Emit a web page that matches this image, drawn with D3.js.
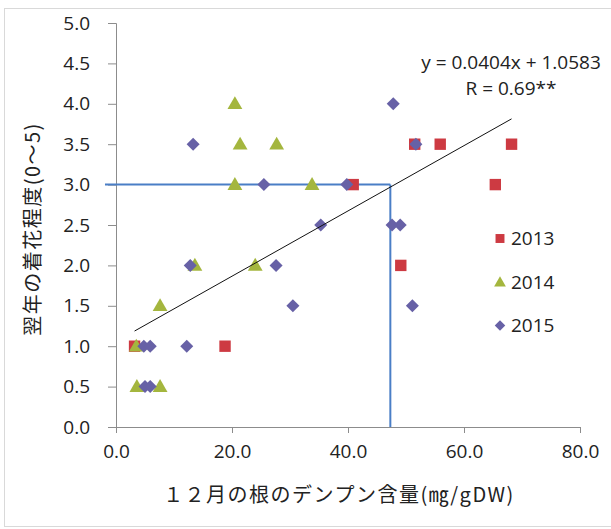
<!DOCTYPE html>
<html>
<head>
<meta charset="utf-8">
<script src="https://cdn.jsdelivr.net/npm/d3@7"></script>
<style>
  html, body { margin: 0; padding: 0; background: #fff; }
  svg { display: block; }
  .lat { font-family: "Open Sans", "Liberation Sans", sans-serif; }
  .cjk { font-family: "Noto Sans CJK JP", "Noto Sans", sans-serif; }
</style>
</head>
<body>
<script>
// Series values: [starch content (mg/gDW), flowering score]
const series2013 = [[3.2,1.0],[18.8,1.0],[40.9,3.0],[51.5,3.5],[55.9,3.5],[68.2,3.5],[65.4,3.0],[49.1,2.0]];
const series2014 = [[20.5,4.0],[21.4,3.5],[27.7,3.5],[20.5,3.0],[33.8,3.0],[13.6,2.0],[24.0,2.0],[7.6,1.5],[3.5,1.0],[3.6,0.5],[7.6,0.5]];
const series2015 = [[13.3,3.5],[47.8,4.0],[51.7,3.5],[25.5,3.0],[39.8,3.0],[35.3,2.5],[47.6,2.5],[49.0,2.5],[12.8,2.0],[27.6,2.0],[30.5,1.5],[51.1,1.5],[4.8,1.0],[5.9,1.0],[12.2,1.0],[5.0,0.5],[5.9,0.5]];
const seriesNames = ["2013", "2014", "2015"];
const xTicks = [0, 20, 40, 60, 80];
const yTicks = [0, 0.5, 1, 1.5, 2, 2.5, 3, 3.5, 4, 4.5, 5];
const slope = 0.0404, intercept = 1.0583;
const equationLines = ["y = 0.0404x + 1.0583", "R = 0.69**"];
const threshold = { x: 47.3, y: 3.0, xStart: -1.9 };
const xTitle = "１２月の根のデンプン含量(㎎/gDW)";
const yTitle = "翌年の着花程度(0〜5)";

const W = 611, H = 529;
const colors = { "2013": "#CD3A42", "2014": "#A4B63E", "2015": "#6761A6" };
// square, triangle and a square-ish diamond (square turned 45°)
const symbols = { "2013": d3.symbolSquare, "2014": d3.symbolTriangle, "2015": d3.symbolSquare };
const rotation = { "2013": 0, "2014": 0, "2015": 45 };

const svg = d3.select("body").append("svg").attr("width", W).attr("height", H);

// chart border
svg.append("rect").attr("x", 4.5).attr("y", 8.5).attr("width", W).attr("height", H - 11)
  .attr("fill", "none").attr("stroke", "#d9d9d9");

const x = d3.scaleLinear().domain([0, 80]).range([116, 580]);
const y = d3.scaleLinear().domain([0, 5]).range([427, 23]);

const axisColor = "#8c8c8c";

const gx = svg.append("g").attr("transform", `translate(0,${y(0)})`)
  .call(d3.axisBottom(x).tickValues(xTicks).tickFormat(d3.format(".1f")).tickSize(6).tickPadding(11.5));
const gy = svg.append("g").attr("transform", `translate(${x(0)},0)`)
  .call(d3.axisLeft(y).tickValues(yTicks).tickFormat(d3.format(".1f")).tickSize(8).tickPadding(18));
[gx, gy].forEach(g => {
  g.selectAll("path, line").attr("stroke", axisColor);
  g.selectAll("text").attr("class", "lat").attr("font-size", 19).attr("fill", "#222");
  g.attr("font-family", null).attr("font-size", null);
});

// threshold guide lines
const guide = svg.append("g").attr("stroke", "#4A7EC6").attr("stroke-width", 2).attr("fill", "none");
guide.append("line").attr("x1", x(threshold.xStart)).attr("x2", x(threshold.x))
  .attr("y1", y(threshold.y)).attr("y2", y(threshold.y));
guide.append("line").attr("x1", x(threshold.x)).attr("x2", x(threshold.x))
  .attr("y1", y(threshold.y)).attr("y2", y(0));

// points
const allSeries = [series2013, series2014, series2015];
const markerSize = { "2013": 130, "2014": 95, "2015": 85 };
allSeries.forEach((data, i) => {
  const name = seriesNames[i];
  svg.append("g").selectAll("path").data(data).join("path")
    .attr("transform", d => `translate(${x(d[0])},${y(d[1]) + (name === "2014" ? 1 : 0)}) rotate(${rotation[name]})`)
    .attr("d", d3.symbol(symbols[name], markerSize[name]))
    .attr("fill", colors[name]);
});

// linear trend line over the data range
const allX = allSeries.flat().map(d => d[0]);
const [xMin, xMax] = d3.extent(allX);
svg.append("line")
  .attr("x1", x(xMin)).attr("y1", y(slope * xMin + intercept))
  .attr("x2", x(xMax)).attr("y2", y(slope * xMax + intercept))
  .attr("stroke", "#111").attr("stroke-width", 1);

// equation label (two lines in one text block)
const eq = svg.append("text").attr("class", "lat").attr("font-size", 19).attr("fill", "#222")
  .attr("text-anchor", "middle");
eq.selectAll("tspan").data(equationLines).join("tspan")
  .attr("x", 511).attr("y", (d, i) => 68.5 + i * 26)
  .text(d => d);

// legend
const legend = svg.append("g");
const legendSize = { "2013": 80, "2014": 60, "2015": 55 };
seriesNames.forEach((name, i) => {
  const by = 245 + i * 43.5;
  legend.append("path").attr("d", d3.symbol(symbols[name], legendSize[name]))
    .attr("transform", `translate(500,${by - 6.5 + (name === "2014" ? 1 : 0)}) rotate(${rotation[name]})`)
    .attr("fill", colors[name]);
  legend.append("text").attr("class", "lat").attr("font-size", 19).attr("fill", "#222")
    .attr("x", 511).attr("y", by).text(name);
});

// axis titles
svg.append("text").attr("class", "cjk").attr("font-size", 20).attr("letter-spacing", 1.5)
  .attr("fill", "#222").attr("text-anchor", "middle")
  .attr("x", 339).attr("y", 502).text(xTitle);
svg.append("text").attr("class", "cjk").attr("font-size", 20).attr("letter-spacing", 1.5)
  .attr("fill", "#222").attr("text-anchor", "middle")
  .attr("transform", "translate(40,229) rotate(-90)").text(yTitle);
</script>
</body>
</html>
